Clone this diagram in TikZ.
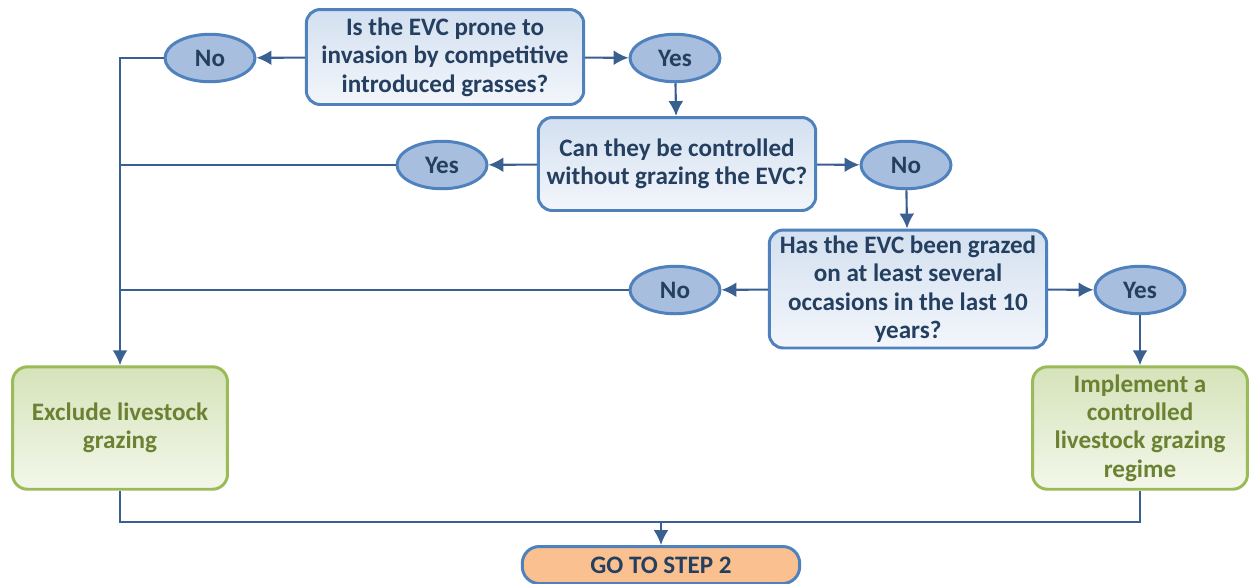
\documentclass[tikz,border=0pt]{standalone}
\usepackage{fontspec}
\setmainfont{Carlito}
\usetikzlibrary{shapes.geometric,arrows.meta}
\definecolor{qline}{HTML}{4F81BD}
\definecolor{qtop}{HTML}{D3E0F0}
\definecolor{qbot}{HTML}{F3F6FB}
\definecolor{ansfill}{HTML}{A7BEDE}
\definecolor{qtext}{HTML}{243F60}
\definecolor{wire}{HTML}{3A6092}
\definecolor{gline}{HTML}{9BBB59}
\definecolor{gtop}{HTML}{D5E3BA}
\definecolor{gbot}{HTML}{F3F7EA}
\definecolor{gtext}{HTML}{6A8232}
\definecolor{gofill}{HTML}{FAC090}
\begin{document}
\begin{tikzpicture}[x=0.02cm,y=-0.02cm,
  font=\fontsize{14.3}{16.2}\selectfont\bfseries,
  question/.style={draw=qline, line width=1.7pt, rounded corners=0.28cm, top color=qtop, bottom color=qbot,
    text=qtext, align=center, minimum width=5.55cm, inner sep=1pt},
  answer/.style={ellipse, draw=qline, line width=1.7pt, fill=ansfill, text=qtext,
    minimum width=1.8cm, minimum height=0.95cm, inner sep=0pt},
  action/.style={draw=gline, line width=1.7pt, rounded corners=0.3cm, top color=gtop, bottom color=gbot,
    text=gtext, align=center, minimum width=4.3cm, minimum height=2.45cm, inner sep=1pt},
  wireline/.style={draw=wire, line width=1.2pt},
  arrow/.style={wireline, -{Latex[length=8.5pt,width=8.5pt]}}]
\useasboundingbox (0,0) rectangle (1251,583);
\node[question, minimum height=1.9cm] (q1) at (445,57) {Is the EVC prone to\\invasion by competitive\\introduced grasses?};
\node[answer] (no1) at (210,58) {No};
\node[answer] (yes1) at (675,58) {Yes};
\node[question, minimum height=1.86cm] (q2) at (677,164) {Can they be controlled\\without grazing the EVC?};
\node[answer] (yes2) at (442,165) {Yes};
\node[answer] (no2) at (906,165) {No};
\node[question, minimum height=2.36cm] (q3) at (908,289) {Has the EVC been grazed\\on at least several\\occasions in the last 10\\years?};
\node[answer] (no3) at (675,290) {No};
\node[answer] (yes3) at (1140,290) {Yes};
\node[action] (excl) at (120,428) {Exclude livestock\\grazing};
\node[action] (impl) at (1140,428) {Implement a\\controlled\\livestock grazing\\regime};
\node[draw=qline, line width=1.7pt, fill=gofill, text=qtext, rounded corners=0.34cm,
  minimum width=5.55cm, minimum height=0.74cm] (goto) at (661,565) {GO TO STEP 2};
\coordinate (j1) at (120,58);
\coordinate (j2) at (120,165);
\coordinate (j3) at (120,290);
\coordinate (jb) at (661,522);
% first question
\draw[arrow] (q1) -- (no1);
\draw[arrow] (q1) -- (yes1);
\draw[arrow] (no1) -- (j1) -- (excl);
\draw[arrow] (yes1) -- (q2);
% second question
\draw[arrow] (q2) -- (yes2);
\draw[arrow] (q2) -- (no2);
\draw[wireline] (yes2) -- (j2);
\draw[arrow] (no2) -- (q3);
% third question
\draw[arrow] (q3) -- (no3);
\draw[arrow] (q3) -- (yes3);
\draw[wireline] (no3) -- (j3);
\draw[arrow] (yes3) -- (impl);
% outcome
\draw[wireline] (excl) -- (excl |- jb) -| (impl);
\draw[arrow] (jb) -- (goto);
\end{tikzpicture}
\end{document}
